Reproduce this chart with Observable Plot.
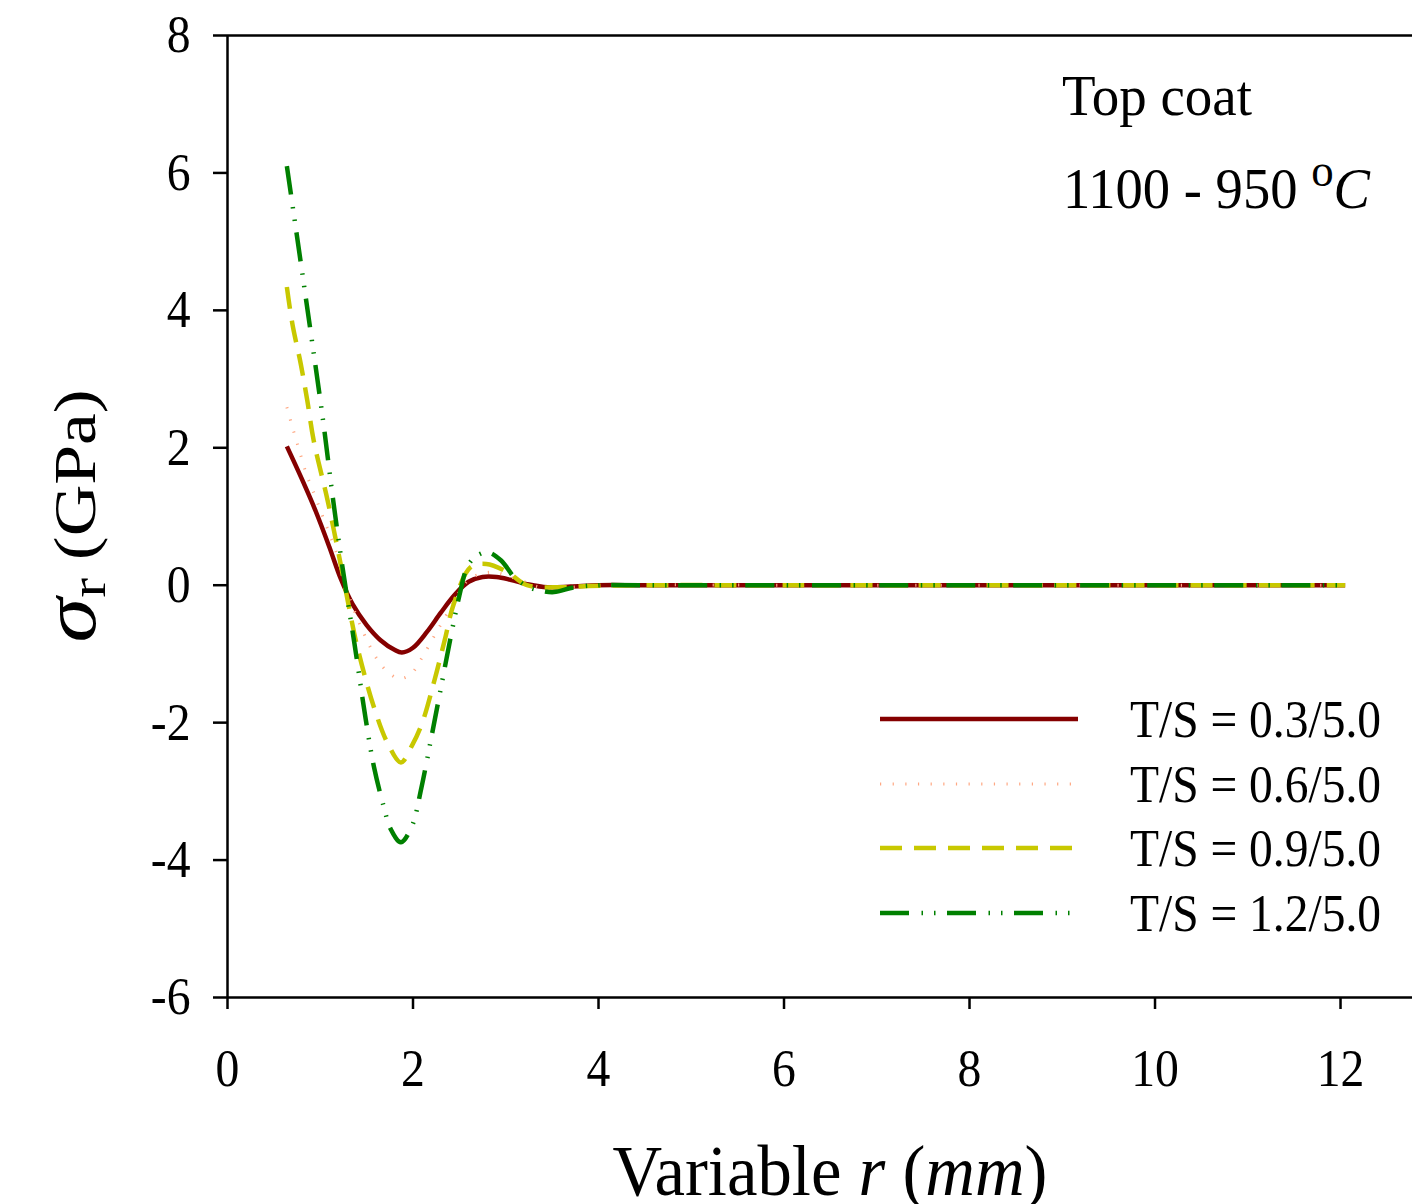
<!DOCTYPE html>
<html><head><meta charset="utf-8">
<script src="https://cdn.jsdelivr.net/npm/d3@7"></script>
<script src="https://cdn.jsdelivr.net/npm/@observablehq/plot@0.6"></script>
<style>
html,body{margin:0;padding:0;background:#fff;}
#chart{width:1412px;height:1204px;position:relative;overflow:hidden;}
#chart svg [aria-label*="axis"] path, #chart svg [aria-label*="axis"] line {stroke-width:2.5px;}
</style></head><body><div id="chart"></div>
<script>
// ---- data ----
const seriesNames = ["T/S = 0.3/5.0", "T/S = 0.6/5.0", "T/S = 0.9/5.0", "T/S = 1.2/5.0"];
const xTicks = [0, 2, 4, 6, 8, 10, 12];
const yTicks = [-6, -4, -2, 0, 2, 4, 6, 8];

const r03 = [0.64, 0.8, 0.95, 1.1, 1.22, 1.35, 1.5, 1.65, 1.8, 1.88, 2.0, 2.15, 2.3, 2.45, 2.6, 2.75, 2.9, 3.05, 3.25, 3.45, 3.7, 4.0, 4.5, 6, 8, 10, 12.05];
const s03 = [2.02, 1.55, 1.08, 0.55, 0.1, -0.28, -0.58, -0.80, -0.94, -0.98, -0.91, -0.68, -0.40, -0.14, 0.05, 0.12, 0.12, 0.08, 0.01, -0.03, -0.02, 0, 0, 0, 0, 0, 0];

const r06 = [0.64, 0.70, 0.77, 0.85, 0.92, 1.03, 1.19, 1.30, 1.44, 1.60, 1.71, 1.85, 1.98, 2.09, 2.25, 2.41, 2.6, 2.85, 3.1, 3.4, 3.7, 4.2, 6, 8, 10, 12.05];
const s06 = [2.59, 2.30, 1.98, 1.62, 1.38, 0.99, 0.41, -0.12, -0.61, -1.05, -1.24, -1.36, -1.29, -1.07, -0.69, -0.32, 0.08, 0.19, 0.10, -0.04, -0.03, 0, 0, 0, 0, 0];

const r09 = [0.64, 0.70, 0.79, 0.86, 0.93, 1.08, 1.24, 1.31, 1.40, 1.58, 1.73, 1.87, 1.99, 2.10, 2.23, 2.34, 2.44, 2.62, 2.79, 3.02, 3.23, 3.59, 3.9, 4.5, 6, 8, 10, 12.05];
const s09 = [4.34, 3.8, 3.22, 2.69, 2.1, 1.23, 0.17, -0.32, -0.9, -1.78, -2.31, -2.58, -2.33, -2.0, -1.39, -0.81, -0.27, 0.26, 0.31, 0.19, 0.0, -0.03, -0.01, 0, 0, 0, 0, 0];

const r12 = [0.64, 0.80, 1.03, 1.13, 1.24, 1.37, 1.49, 1.58, 1.68, 1.76, 1.87, 1.99, 2.09, 2.2, 2.3, 2.4, 2.5, 2.58, 2.66, 2.80, 2.95, 3.09, 3.25, 3.38, 3.52, 3.74, 4.0, 4.5, 6, 8, 10, 12.05];
const s12 = [6.1, 4.6, 2.4, 1.33, 0.26, -0.86, -1.95, -2.65, -3.2, -3.55, -3.74, -3.50, -2.95, -2.2, -1.5, -0.8, -0.15, 0.25, 0.40, 0.48, 0.36, 0.12, -0.03, -0.08, -0.10, -0.03, 0, 0, 0, 0, 0, 0];

// ---- styles ----
const colors = ["#850000", "#ffa883", "#c8c800", "#008000"];
const dashes = [null, "1.2,11.45", "22,12", "29,12.5,1.5,11,1.5,11.5"];
const widths = [4.5, 3, 4.5, 4.5];

const xs = [r03, r06, r09, r12];
const ys = [s03, s06, s09, s12];
const table = [];
seriesNames.forEach((name, i) => xs[i].forEach((r, j) => table.push({series: name, r, s: ys[i][j]})));

const chart = Plot.plot({
  width: 1412,
  height: 1204,
  marginLeft: 227,
  marginRight: 0,
  marginTop: 35,
  marginBottom: 207,
  style: {fontFamily: "'Liberation Serif', 'Times New Roman', serif", fontSize: "53px", background: "white", color: "black", overflow: "visible"},
  x: {domain: [0, 12.776], ticks: xTicks, tickSize: 12, tickPadding: 39, label: null, tickFormat: d => String(d)},
  y: {domain: [-6, 8], ticks: yTicks, tickSize: 14, tickPadding: 23, label: null, tickFormat: d => String(d)},
  marks: [
    Plot.ruleY([8, -6], {stroke: "black", strokeWidth: 2.5}),
    Plot.ruleX([0], {stroke: "black", strokeWidth: 2.5}),
    ...seriesNames.map((name, i) => Plot.line(table.filter(d => d.series === name), {
      x: "r", y: "s",
      stroke: colors[i],
      strokeWidth: widths[i],
      strokeDasharray: dashes[i] || undefined,
      strokeLinecap: "butt",
      curve: "catmull-rom"
    }))
  ]
});
document.getElementById("chart").appendChild(chart);

// squeeze tick labels slightly (narrow Times look)
d3.select(chart).selectAll('[aria-label*="tick label"] text, [aria-label$="-axis"] text').each(function () {
  const t = this.getAttribute("transform") || "";
  this.setAttribute("transform", t + " scale(0.9,1)");
});

// ---- annotations, axis titles and legend ----
const g = d3.select(chart).append("g")
  .attr("font-family", "'Liberation Serif', 'Times New Roman', serif")
  .attr("text-anchor", "start")
  .attr("fill", "black");

g.append("text").attr("x", 1062).attr("y", 115).attr("font-size", 58)
  .attr("textLength", 190).attr("lengthAdjust", "spacingAndGlyphs").text("Top coat");
const t2 = g.append("text").attr("x", 1063).attr("y", 208).attr("font-size", 56)
  .attr("textLength", 307).attr("lengthAdjust", "spacingAndGlyphs");
t2.append("tspan").text("1100 - 950 ");
t2.append("tspan").attr("font-size", 46).attr("dy", -22).text("o");
t2.append("tspan").attr("dy", 22).attr("font-style", "italic").text("C");

const yl = g.append("text").attr("transform", "translate(95,516) rotate(-90)")
  .attr("text-anchor", "middle").attr("font-size", 60)
  .attr("textLength", 253).attr("lengthAdjust", "spacingAndGlyphs");
yl.append("tspan").attr("font-style", "italic").attr("font-size", 76).text("σ");
yl.append("tspan").attr("font-size", 50).attr("dy", 10).text("r");
yl.append("tspan").attr("dy", -10).text(" (GPa)");

const xl = g.append("text").attr("x", 830).attr("y", 1195).attr("text-anchor", "middle")
  .attr("font-size", 71).attr("textLength", 435).attr("lengthAdjust", "spacingAndGlyphs");
xl.append("tspan").text("Variable ");
xl.append("tspan").attr("font-style", "italic").text("r");
xl.append("tspan").text(" (");
xl.append("tspan").attr("font-style", "italic").text("mm");
xl.append("tspan").text(")");

const legendY = [719, 784, 848, 913];
seriesNames.forEach((n, i) => {
  const ln = g.append("line").attr("x1", 880).attr("x2", 1078)
    .attr("y1", legendY[i]).attr("y2", legendY[i])
    .attr("stroke", colors[i]).attr("stroke-width", widths[i]);
  if (dashes[i]) ln.attr("stroke-dasharray", dashes[i]);
  g.append("text").attr("x", 1130).attr("y", legendY[i] + 18).attr("font-size", 52)
    .attr("textLength", 251).attr("lengthAdjust", "spacingAndGlyphs").text(n);
});
</script>
</body></html>
